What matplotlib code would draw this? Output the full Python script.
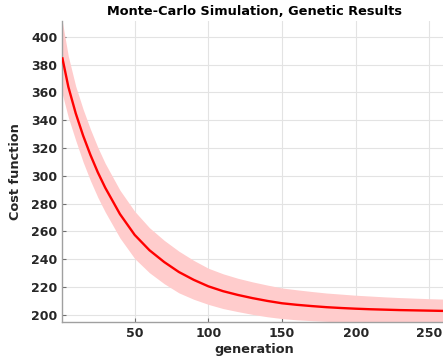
import numpy as np
import matplotlib
matplotlib.use("Agg")
import matplotlib.pyplot as plt

# values
generation = [1, 5, 10, 15, 20, 25, 30, 40, 50, 60, 70, 80, 90, 100, 110, 120,
              130, 140, 150, 160, 170, 180, 190, 200, 210, 220, 230, 240, 250, 260]
cost_mean = [384.5, 364, 345, 329, 315, 302.5, 291.5, 272.5, 257.5, 246.5, 238, 230.8,
             225.2, 220.5, 217, 214.3, 212, 210, 208.3, 207.2, 206.3, 205.5, 204.9,
             204.4, 204, 203.7, 203.4, 203.2, 203, 202.8]
cost_spread = [26, 22, 19.5, 19, 18.5, 18, 17.5, 17.2, 17, 16.2, 15.6, 15, 14, 13,
               12.5, 12, 11.7, 11.4, 11, 10.8, 10.5, 10.2, 10, 9.7, 9.5, 9.2, 9, 8.8, 8.6, 8.5]

x_ticks = [50, 100, 150, 200, 250]
y_ticks = list(range(200, 401, 20))

x = np.array(generation)
m = np.array(cost_mean)
s = np.array(cost_spread)

fig = plt.figure(figsize=(4.43, 3.62), dpi=100)
ax = fig.add_axes([0.141, 0.110, 0.865, 0.833])

ax.fill_between(x, m - s, m + s, color="#ffcccc", linewidth=0, zorder=2)
ax.plot(x, m, color="red", linewidth=1.7, zorder=3)

ax.set_xlim(1, 261)
ax.set_ylim(194.7, 411.7)
ax.set_xticks(x_ticks)
ax.set_yticks(y_ticks)
ax.grid(True, color="#e3e3e3", linewidth=0.8, zorder=0)
ax.set_axisbelow(True)

for side in ["top", "right"]:
    ax.spines[side].set_visible(False)
for side in ["left", "bottom"]:
    ax.spines[side].set_color("#a0a0a0")
    ax.spines[side].set_linewidth(1.0)

ax.tick_params(direction="in", length=3, color="#707070", labelsize=9,
               labelcolor="#262626")
for lab in ax.get_xticklabels() + ax.get_yticklabels():
    lab.set_fontweight("bold")

ax.set_title("Monte-Carlo Simulation, Genetic Results", fontsize=9.3,
             fontweight="bold", pad=4)
ax.set_xlabel("generation", fontsize=9.3, fontweight="bold", color="#262626", labelpad=2)
ax.set_ylabel("Cost function", fontsize=9.3, fontweight="bold", color="#262626")
ax.yaxis.set_label_coords(-0.106, 0.5)

fig.savefig("out.png", dpi=100)
